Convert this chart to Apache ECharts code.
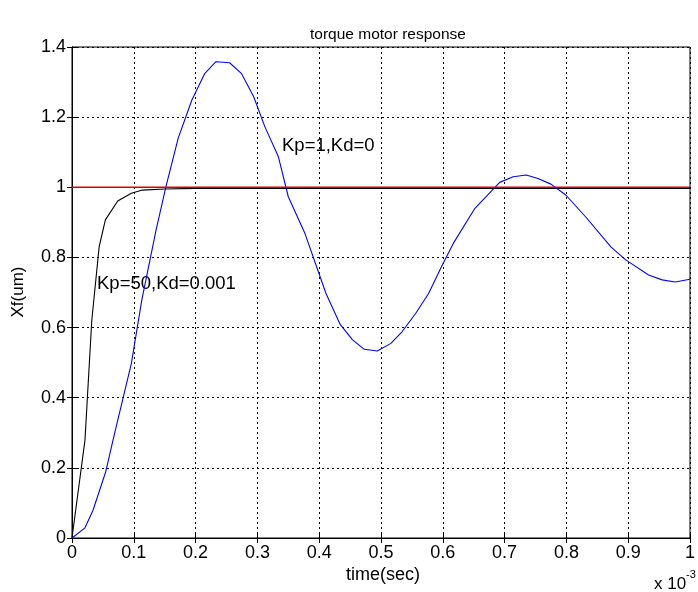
<!DOCTYPE html>
<html>
<head>
<meta charset="utf-8">
<script src="https://cdn.jsdelivr.net/npm/echarts@6/dist/echarts.min.js"></script>
<style>
html,body{margin:0;padding:0;background:#fff;}
#chart{width:698px;height:592px;}
</style>
</head>
<body>
<div id="chart"></div>
<script>
// time in units of 1e-3 s
var blueT = [0, 0.021, 0.034, 0.0546, 0.069, 0.096, 0.113, 0.136, 0.152, 0.172, 0.194, 0.215, 0.233, 0.255, 0.274, 0.294, 0.312, 0.334, 0.350, 0.377, 0.411, 0.434, 0.454, 0.473, 0.494, 0.516, 0.534, 0.556, 0.577, 0.599, 0.617, 0.652, 0.692, 0.714, 0.735, 0.754, 0.775, 0.799, 0.831, 0.872, 0.896, 0.933, 0.955, 0.976, 1.0];
var blueY = [0, 0.029, 0.079, 0.189, 0.299, 0.497, 0.679, 0.878, 1.002, 1.141, 1.249, 1.325, 1.358, 1.355, 1.325, 1.258, 1.173, 1.087, 0.973, 0.868, 0.697, 0.609, 0.565, 0.538, 0.533, 0.555, 0.588, 0.640, 0.697, 0.778, 0.840, 0.940, 1.014, 1.030, 1.035, 1.025, 1.009, 0.978, 0.916, 0.830, 0.793, 0.750, 0.736, 0.730, 0.738];
var blackT = [0, 0.021, 0.032, 0.044, 0.054, 0.074, 0.096, 0.114, 0.15, 0.2, 0.3, 0.5, 0.7, 1.0];
var blackY = [0, 0.279, 0.62, 0.831, 0.907, 0.961, 0.983, 0.992, 0.995, 0.997, 0.997, 0.997, 0.997, 0.997];
var refT = [0, 1.0];
var refY = [1, 1];
var xTickLabels = ['0','0.1','0.2','0.3','0.4','0.5','0.6','0.7','0.8','0.9','1'];
var yTickLabels = ['0','0.2','0.4','0.6','0.8','1','1.2','1.4'];
var titleText = 'torque motor response';
var xName = 'time(sec)';
var yName = 'Xf(um)';
var ann1 = 'Kp=1,Kd=0';
var ann2 = 'Kp=50,Kd=0.001';
var expBase = 'x 10';
var expPow = '-3';

function pairs(t, y){ return t.map(function(v,i){ return [v, y[i]]; }); }

var FONT = 'Liberation Sans, Arial, Helvetica, sans-serif';
var chart = echarts.init(document.getElementById('chart'), null, {renderer:'canvas'});
var gridLine = {show:true, lineStyle:{color:'#000', type:[2,3], width:1}};
var tickStyle = {show:true, inside:true, length:5, lineStyle:{color:'#000'}};
var option = {
  animation:false,
  backgroundColor:'#fff',
  title:{text:titleText, left:383, textAlign:'center', top:22,
    textStyle:{fontFamily:FONT, fontSize:15.5, fontWeight:'normal', color:'#000'}},
  grid:{left:72, right:3, top:47, bottom:54, show:true, borderColor:'#000', borderWidth:1, backgroundColor:'#fff'},
  xAxis:[{type:'value', min:0, max:1, interval:0.1,
    axisLine:{show:true, lineStyle:{color:'#000', width:1}},
    axisTick:tickStyle,
    splitLine:gridLine,
    axisLabel:{color:'#000', fontFamily:FONT, fontSize:18, margin:6,
      formatter:function(v){ return xTickLabels[Math.round(v*10)]; }}
  },{type:'value', position:'top', min:0, max:1, interval:0.1,
    axisLine:{show:true, lineStyle:{color:'#000', width:1}},
    axisTick:tickStyle, splitLine:{show:false}, axisLabel:{show:false}}],
  yAxis:[{type:'value', min:0, max:1.4, interval:0.2,
    axisLine:{show:true, lineStyle:{color:'#000', width:1}},
    axisTick:tickStyle,
    splitLine:gridLine,
    axisLabel:{color:'#000', fontFamily:FONT, fontSize:18, margin:6,
      formatter:function(v){ return yTickLabels[Math.round(v*5)]; }}
  },{type:'value', position:'right', min:0, max:1.4, interval:0.2,
    axisLine:{show:true, lineStyle:{color:'#000', width:1}},
    axisTick:tickStyle, splitLine:{show:false}, axisLabel:{show:false}}],
  series:[
    {type:'line', data:pairs(blueT, blueY), showSymbol:false, symbol:'none', lineStyle:{color:'#0000ff', width:1.1}, z:3},
    {type:'line', data:pairs(blackT, blackY), showSymbol:false, symbol:'none', lineStyle:{color:'#000', width:1.1}, z:2},
    {type:'line', data:pairs(refT, refY), showSymbol:false, symbol:'none', lineStyle:{color:'#e00000', width:1.5}, z:4}
  ],
  graphic:[
    {type:'text', x:282, y:146, style:{text:ann1, font:'18.5px '+FONT, fill:'#000', verticalAlign:'middle'}},
    {type:'text', x:97, y:284, style:{text:ann2, font:'18.5px '+FONT, fill:'#000', verticalAlign:'middle'}},
    {type:'text', x:383, y:575, style:{text:xName, font:'18px '+FONT, fill:'#000', align:'center', verticalAlign:'middle'}},
    {type:'text', x:18, y:292, rotation:Math.PI/2, style:{text:yName, font:'17px '+FONT, fill:'#000', align:'center', verticalAlign:'middle'}},
    {type:'text', x:654, y:584, style:{text:expBase, font:'17px '+FONT, fill:'#000', verticalAlign:'middle'}},
    {type:'text', x:686, y:575, style:{text:expPow, font:'11px '+FONT, fill:'#000', verticalAlign:'middle'}}
  ]
};
chart.setOption(option);
</script>
</body>
</html>
